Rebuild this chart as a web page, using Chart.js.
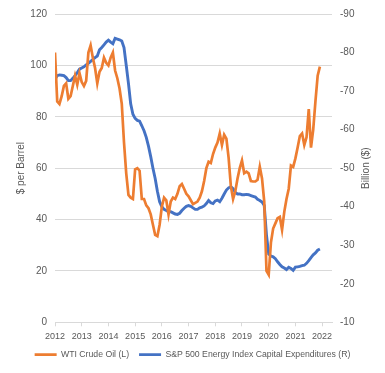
<!DOCTYPE html>
<html>
<head>
<meta charset="utf-8">
<script src="https://cdn.jsdelivr.net/npm/chart.js@4.4.1/dist/chart.umd.min.js"></script>
<style>
  html, body { margin: 0; padding: 0; background: #fff; }
  #mycanvas { display: block; }
</style>
</head>
<body>
<canvas id="mycanvas" width="385" height="373"></canvas>
<script>
// monthly series, Jan 2012 - Dec 2021
var startYear = 2012;
var years = [2012, 2013, 2014, 2015, 2016, 2017, 2018, 2019, 2020, 2021, 2022];
var leftTicks = [0, 20, 40, 60, 80, 100, 120];
var rightTicks = [-90, -80, -70, -60, -50, -40, -30, -20, -10];

// WTI crude oil, $ per barrel (left axis)
var wti = [
  105, 86, 85, 88, 92, 93, 87, 88, 92, 96, 92.5, 97,
  93.5, 92, 94, 105, 107.8, 103, 99, 93, 97.5, 99, 103, 101,
  100, 103, 105, 98, 95, 91, 85, 70, 58, 49.6, 48.5, 48,
  59.5, 60, 59, 48, 48, 45.5, 44.4, 42, 38, 34, 33.5, 38,
  45, 48.5, 47.5, 42, 47, 48.5, 48, 50, 53, 53.8, 52, 50,
  49, 47.5, 46, 46.5, 47, 48.5, 51, 55, 60, 62.5, 62, 65.5,
  68, 70, 73.5, 69, 73, 71.5, 64, 53, 48, 51, 56, 60,
  63, 58, 58.6, 58, 55, 54.8, 54.8, 55.5, 60.5, 56, 47, 20,
  18.5, 31, 36.5, 38.5, 40.5, 41, 36, 43, 48, 52, 61, 60.5,
  63.8, 68, 72.5, 73.5, 69, 72, 83, 68, 75, 86, 96, 99.5
];

// S&P 500 energy capex, billion $ (right axis)
var capex = [
  -73.1, -74, -74.2, -74.1, -74, -73.5, -72.7, -72.7, -73.3, -74, -74.8, -75.7,
  -76, -76.3, -76.8, -77.2, -77.7, -78.2, -78.7, -79.1, -80.7, -81.3, -82, -82.7,
  -83.2, -82.7, -82.3, -83.7, -83.5, -83.3, -83, -81.3, -76.7, -72, -66.7, -64,
  -62.9, -62.4, -62.2, -61, -59.7, -58, -55.7, -53, -50, -47.3, -44, -41.3,
  -40, -39.3, -39, -38.7, -38.7, -38.4, -38.1, -38, -38.3, -39, -39.6, -40.1,
  -40.3, -40.1, -39.7, -39.3, -39.3, -39.7, -39.9, -40.2, -40.8, -41.6, -41, -40.8,
  -41.5, -41.7, -41.3, -42.2, -43.3, -44.3, -44.9, -45.2, -44.7, -43.7, -43.3, -43.3,
  -43.1, -43.1, -43.2, -43.1, -42.9, -42.7, -42.5, -41.9, -41.6, -41.2, -40.3, -32.7,
  -27.7, -27.2, -27, -26.5, -25.7, -25, -24.4, -24.1, -23.7, -24.3, -24, -23.5,
  -24.3, -24.4, -24.5, -24.7, -24.8, -25.3, -26, -26.8, -27.5, -28, -28.7, -29
];

var FONT = "'Liberation Sans', Arial, sans-serif";
var GREY = "#595959";
var GRID = "#D9D9D9";

function toPoints(arr) {
  var pts = [];
  for (var i in arr) {
    pts.push({ x: startYear + i / 12, y: arr[i] });
  }
  return pts;
}

// right axis title reads bottom-to-top like the left one
var rightTitle = {
  id: 'rightTitle',
  afterDraw: function(chart) {
    var ctx = chart.ctx;
    var area = chart.chartArea;
    ctx.save();
    ctx.translate(366, (area.top + area.bottom) / 2);
    ctx.rotate(-Math.PI / 2);
    ctx.font = "10px " + FONT;
    ctx.fillStyle = GREY;
    ctx.textAlign = "center";
    ctx.textBaseline = "middle";
    ctx.fillText("Billion ($)", 0, 0);
    ctx.restore();
  }
};

var ctx = document.getElementById("mycanvas");

var chart = new Chart(ctx, {
  type: 'line',
  data: {
    datasets: [
      {
        label: "WTI Crude Oil (L)",
        data: toPoints(wti),
        borderColor: "#ED7D31",
        backgroundColor: "#ED7D31",
        borderWidth: 2.7,
        pointRadius: 0,
        tension: 0,
        yAxisID: 'y'
      },
      {
        label: "S&P 500 Energy Index Capital Expenditures (R)",
        data: toPoints(capex),
        borderColor: "#4472C4",
        backgroundColor: "#4472C4",
        borderWidth: 2.9,
        pointRadius: 0,
        tension: 0,
        yAxisID: 'y2'
      }
    ]
  },
  options: {
    responsive: false,
    animation: false,
    layout: { padding: { top: 3, left: 0, right: 0, bottom: 4 } },
    plugins: {
      tooltip: { enabled: false },
      legend: {
        position: 'bottom',
        labels: {
          usePointStyle: true,
          pointStyle: 'line',
          pointStyleWidth: 22,
          boxHeight: 7,
          color: GREY,
          font: { family: FONT, size: 8.7 },
          padding: 10
        }
      }
    },
    scales: {
      x: {
        type: 'linear',
        min: 2012,
        max: 2022.37,
        afterBuildTicks: function(scale) {
          scale.ticks = years.map(function(v) { return { value: v }; });
        },
        ticks: {
          autoSkip: false,
          maxRotation: 0,
          color: GREY,
          font: { family: FONT, size: 9 },
          padding: 5,
          callback: function(v) { return String(v); }
        },
        grid: { drawOnChartArea: false, drawTicks: true, tickLength: 4, color: GRID },
        border: { color: GRID },
        afterFit: function(scale) { scale.height = 18; }
      },
      y: {
        position: 'left',
        min: 0,
        max: 120,
        afterBuildTicks: function(scale) {
          scale.ticks = leftTicks.map(function(v) { return { value: v }; });
        },
        ticks: { color: GREY, font: { family: FONT, size: 10 }, padding: 8 },
        title: { display: true, text: "$ per Barrel", color: GREY, font: { family: FONT, size: 10 }, padding: { top: 15, bottom: 0 } },
        grid: { color: GRID, drawTicks: false },
        border: { display: false },
        afterFit: function(scale) { scale.width = 55; }
      },
      y2: {
        position: 'right',
        min: -90,
        max: -10,
        reverse: true,
        afterBuildTicks: function(scale) {
          scale.ticks = rightTicks.map(function(v) { return { value: v }; });
        },
        ticks: { color: GREY, font: { family: FONT, size: 10 }, padding: 8 },
        grid: { drawOnChartArea: false, drawTicks: false },
        border: { display: false },
        afterFit: function(scale) { scale.width = 53; }
      }
    }
  },
  plugins: [rightTitle]
});
</script>
</body>
</html>
